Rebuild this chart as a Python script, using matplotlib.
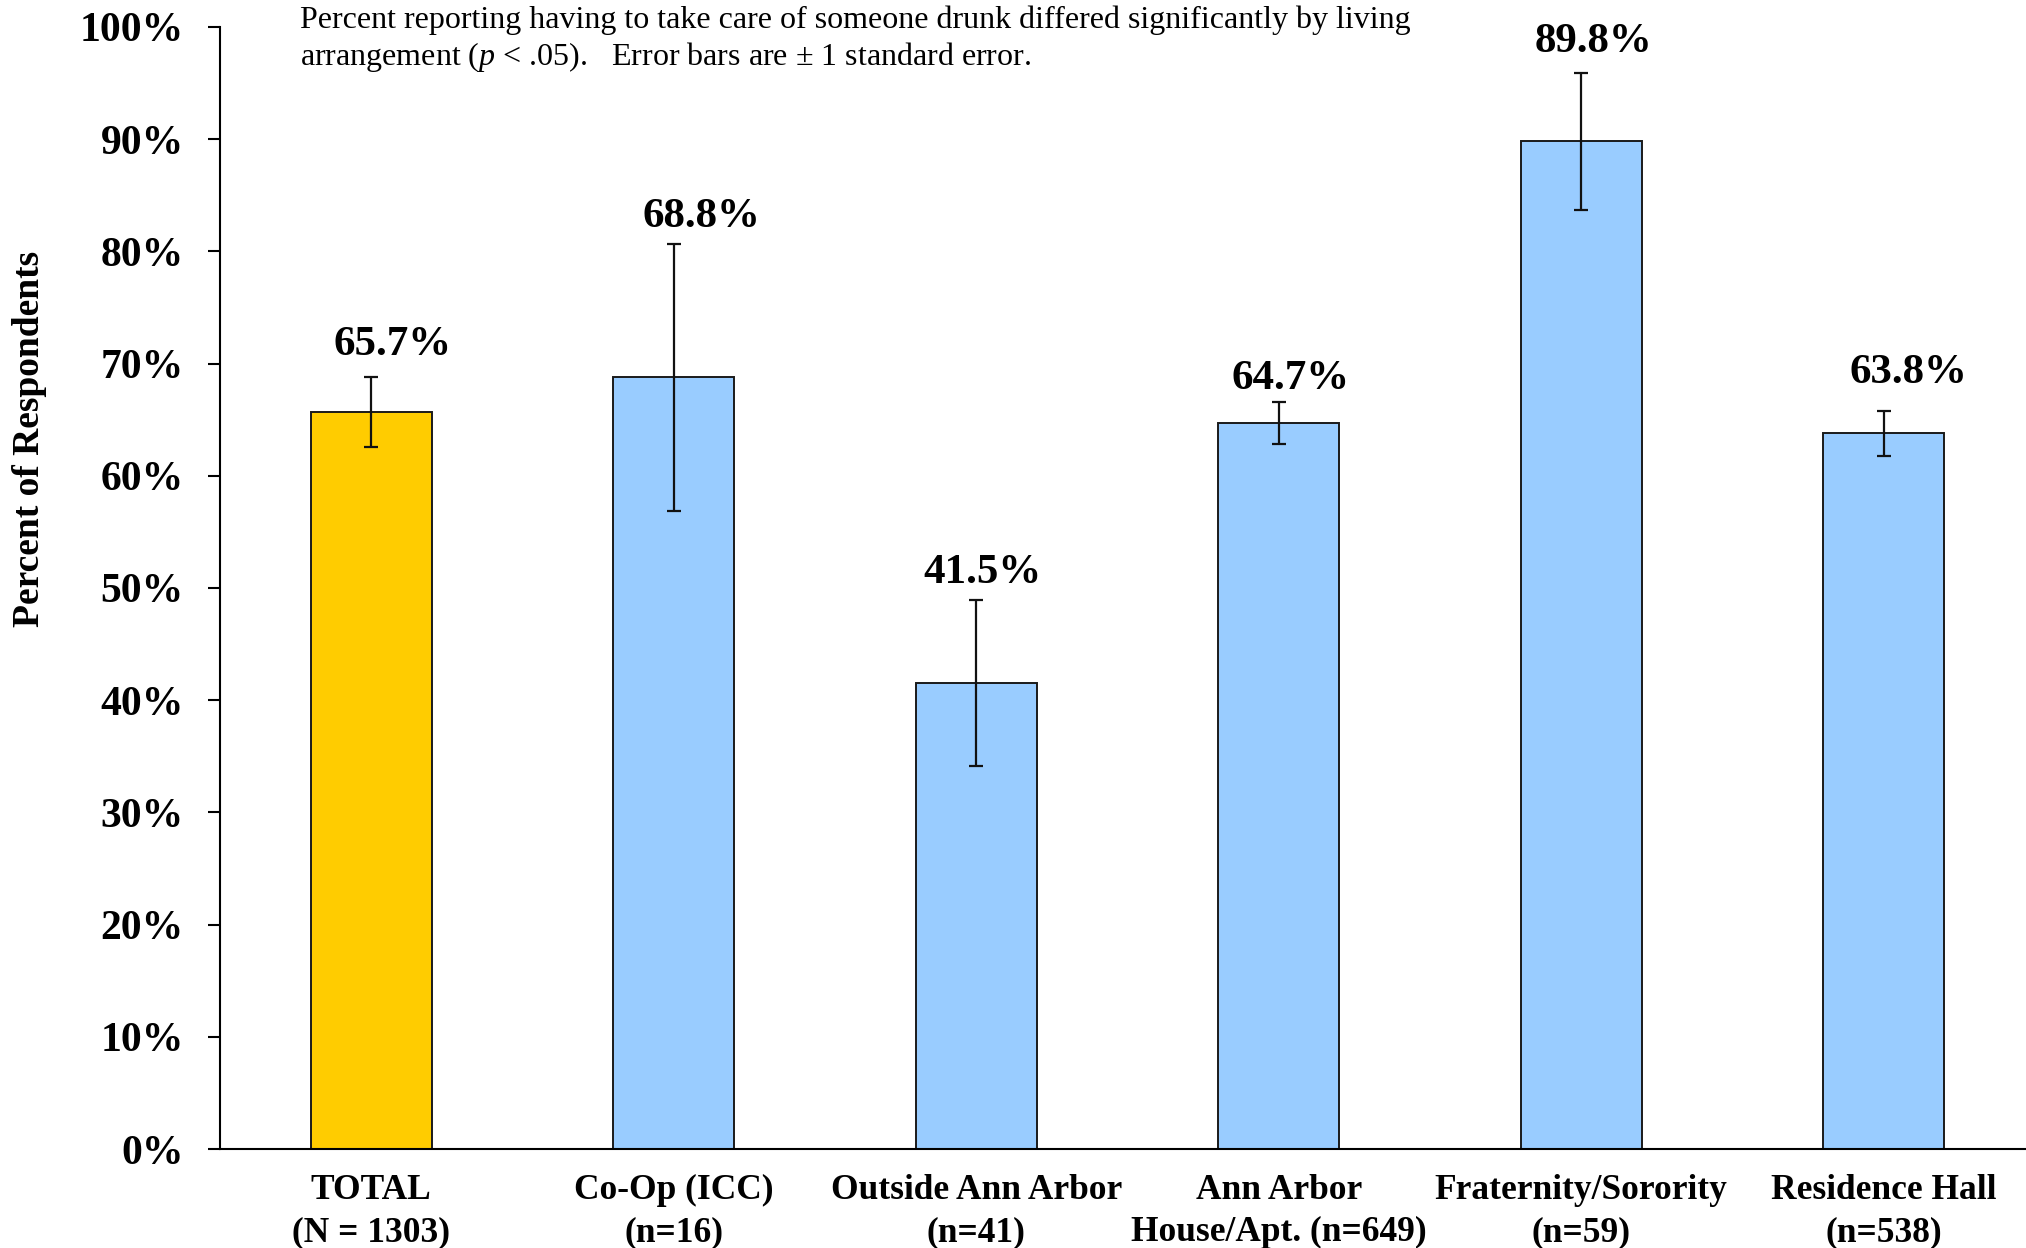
import matplotlib
matplotlib.use('Agg')
import matplotlib.pyplot as plt
import numpy as np

plt.rcParams['font.family'] = ['Liberation Serif', 'DejaVu Serif']
plt.rcParams['mathtext.fontset'] = 'custom'
plt.rcParams['mathtext.rm'] = 'Liberation Serif'
plt.rcParams['mathtext.it'] = 'Liberation Serif:italic'

# 数据
categories = ['TOTAL\n(N = 1303)', 'Co-Op (ICC)\n(n=16)', 'Outside Ann Arbor\n(n=41)',
              'Ann Arbor\nHouse/Apt. (n=649)', 'Fraternity/Sorority\n(n=59)', 'Residence Hall\n(n=538)']
values = [65.7, 68.8, 41.5, 64.7, 89.8, 63.8]
errors = [3.1, 11.9, 7.4, 1.9, 6.1, 2.0]
colors = ['#FFCC00', '#99CCFF', '#99CCFF', '#99CCFF', '#99CCFF', '#99CCFF']

# 数值标签的微调 (x, y)
label_nudge = [(0.07, 2.9), (0.09, 2.4), (0.02, 2.4), (0.04, 2.0), (0.04, 2.8), (0.08, 3.4)]

fig = plt.figure(figsize=(20.26, 12.48), dpi=100)
ax = fig.add_axes([0.1086, 0.0793, 0.8914, 0.8991])

x = np.arange(len(values))
ax.bar(x, values, width=0.4, color=colors, edgecolor='#1a1a1a', linewidth=1.4, zorder=2)
ax.errorbar(x, values, yerr=errors, fmt='none', ecolor='#111111', elinewidth=1.6,
            capsize=5, capthick=1.6, zorder=3)

for i in range(len(values)):
    dx, dy = label_nudge[i]
    ax.text(x[i] + dx, values[i] + errors[i] + dy, '%.1f%%' % values[i],
            ha='center', va='center', fontsize=31, fontweight='bold')

ax.set_xlim(-0.5, 5.47)
ax.set_ylim(0, 100)
ax.set_yticks(np.arange(0, 101, 10))
ax.set_yticklabels(['%d%%' % v for v in range(0, 101, 10)])
ax.set_xticks(x)
ax.set_xticklabels(categories, linespacing=1.36)

ax.tick_params(axis='y', labelsize=30, length=9, width=1.5, pad=17)
ax.tick_params(axis='x', labelsize=25.5, length=0, pad=18)
for lab in ax.get_xticklabels() + ax.get_yticklabels():
    lab.set_fontweight('bold')

ax.spines['top'].set_visible(False)
ax.spines['right'].set_visible(False)
ax.spines['left'].set_linewidth(1.5)
ax.spines['bottom'].set_linewidth(1.5)

fig.text(0.0145, 0.648, 'Percent of Respondents', rotation=90, ha='center', va='center',
         fontsize=27, fontweight='bold')

fig.text(0.148, 0.984, 'Percent reporting having to take care of someone drunk differed significantly by living',
         ha='left', va='center', fontsize=23)
fig.text(0.148, 0.954, r'arrangement ($p$ < .05).   Error bars are $\pm$ 1 standard error.',
         ha='left', va='center', fontsize=23)

plt.savefig('out.png', dpi=100)
plt.close()
